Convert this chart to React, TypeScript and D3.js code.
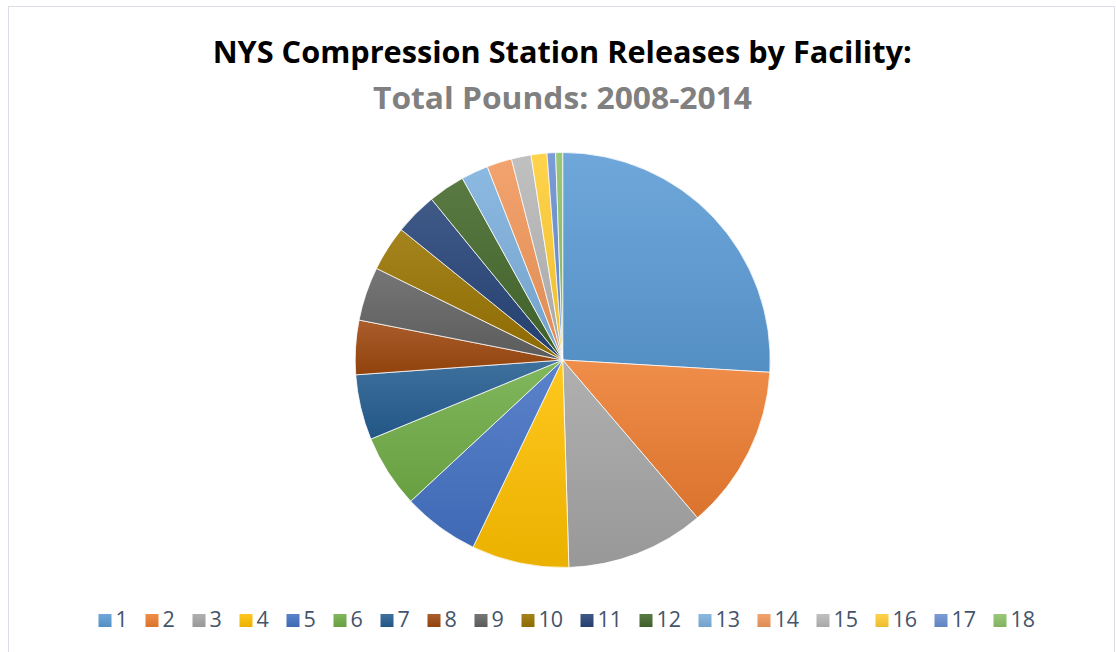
import React from "react";
import * as d3 from "d3";

const facilities: string[] = ["1","2","3","4","5","6","7","8","9","10","11","12","13","14","15","16","17","18"];
// Total pounds released per facility
const pounds: number[] = [93400, 46100, 38800, 27300, 21500, 20500, 18300, 15200, 15100, 12700, 11900, 10300, 7600, 7000, 5500, 4450, 2400, 1950];
const sliceColors: string[] = [
  "#5B9BD5", "#ED7D31", "#A5A5A5", "#FFC000", "#4472C4", "#70AD47",
  "#255E91", "#9E480E", "#636363", "#997300", "#264478", "#43682B",
  "#7CAFDD", "#F1975A", "#B7B7B7", "#FFCD33", "#698ED0", "#8CC168",
];
const titleText = "NYS Compression Station Releases by Facility:";
const subtitleText = "Total Pounds: 2008-2014";

const W = 1116;
const H = 652;
const cx = 562.7;
const cy = 360;
const R = 207.5;

export default function App() {
  const pie = d3.pie<number>().sort(null).value((d) => d);
  const arcs = pie(pounds);
  const arcGen = d3.arc<d3.PieArcDatum<number>>().innerRadius(0).outerRadius(R);

  const lighten = (c: string, t: number) => d3.interpolateRgb(c, "#ffffff")(t);
  const darken = (c: string, t: number) => d3.interpolateRgb(c, "#000000")(t);

  // legend layout
  const sq = 13;
  const digitW = 12;
  const gapAfterSq = 4;
  const itemGap = 18;
  const widths = facilities.map((f) => sq + gapAfterSq + f.length * digitW);
  const total = widths.reduce((a, b) => a + b, 0) + itemGap * (facilities.length - 1);
  const legendCenter = 566.5;
  let lx = legendCenter - total / 2;
  const legendX: number[] = widths.map((w) => {
    const x = lx;
    lx += w + itemGap;
    return x;
  });

  return (
    <svg
      width={W}
      height={H}
      style={{ position: "absolute", left: 0, top: 0, display: "block", background: "#ffffff" }}
    >
      <defs>
        {sliceColors.map((c, i) => (
          <linearGradient key={i} id={`g${i}`} x1="0" y1="0" x2="0" y2="1">
            <stop offset="0%" stopColor={lighten(c, 0.12)} />
            <stop offset="100%" stopColor={darken(c, 0.08)} />
          </linearGradient>
        ))}
      </defs>
      <rect x={0} y={0} width={W} height={H} fill="#ffffff" />
      <rect x={8.5} y={6.5} width={1106} height={700} fill="#ffffff" stroke="#d9dee4" strokeWidth={1} />

      <text
        x={562.2}
        y={63.3}
        textAnchor="middle"
        fontFamily="'Open Sans', 'Noto Sans', sans-serif"
        fontWeight={700}
        fontSize={30.5}
        fill="#000000"
        textLength={699}
        lengthAdjust="spacingAndGlyphs"
      >
        {titleText}
      </text>
      <text
        x={562.5}
        y={109}
        textAnchor="middle"
        fontFamily="'Open Sans', 'Noto Sans', sans-serif"
        fontWeight={700}
        fontSize={29.5}
        fill="#808080"
        textLength={379}
        lengthAdjust="spacingAndGlyphs"
      >
        {subtitleText}
      </text>

      <g transform={`translate(${cx},${cy})`}>
        {arcs.map((a, i) => (
          <path
            key={i}
            d={arcGen(a) || ""}
            fill={`url(#g${i})`}
            stroke="#ffffff"
            strokeWidth={0.75}
            strokeLinejoin="round"
          />
        ))}
      </g>

      <g>
        {facilities.map((f, i) => (
          <g key={f}>
            <rect x={legendX[i]} y={614} width={sq} height={sq} fill={`url(#g${i})`} />
            <text
              x={legendX[i] + sq + gapAfterSq}
              y={627.3}
              fontFamily="'Open Sans', 'Noto Sans', sans-serif"
              fontSize={21.5}
              fill="#44546A"
            >
              {f}
            </text>
          </g>
        ))}
      </g>
    </svg>
  );
}
